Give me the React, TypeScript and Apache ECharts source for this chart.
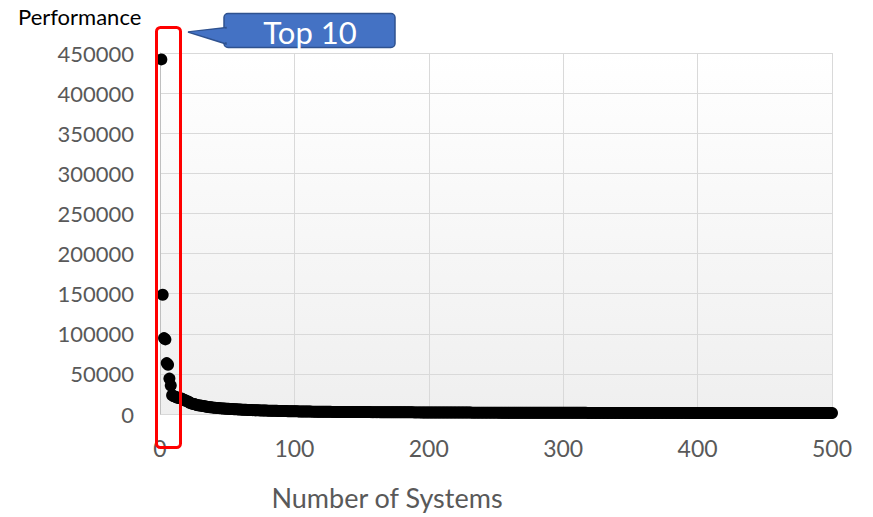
import React, { useEffect, useRef } from "react";
import * as echarts from "echarts";

const performance: number[] = [
  442010, 148600, 94640, 93015, 63460, 61445, 44120, 35450, 23516, 22400,
  21640, 21230, 20158, 19880, 19477, 19334, 18200, 17860, 16500, 16000,
  15600, 14000, 13600, 12800, 12400, 12000, 11500, 10900, 10700, 10500,
  10200, 10000, 9600, 9300, 9000, 8800, 8500, 8300, 8100, 7900,
  7800, 7600, 7500, 7300, 7200, 7000, 6900, 6800, 6600, 6500,
  6400, 6300, 6200, 6100, 6000, 5900, 5800, 5700, 5600, 5500,
  5400, 5300, 5300, 5200, 5100, 5000, 5000, 4900, 4800, 4800,
  4700, 4600, 4600, 4500, 4500, 4400, 4400, 4300, 4300, 4200,
  4200, 4100, 4100, 4000, 4000, 3900, 3900, 3800, 3800, 3700,
  3700, 3600, 3600, 3600, 3500, 3500, 3450, 3400, 3400, 3350,
  3300, 3300, 3250, 3200, 3200, 3150, 3100, 3100, 3050, 3000,
  3000, 2980, 2950, 2920, 2900, 2880, 2850, 2830, 2800, 2780,
  2760, 2740, 2720, 2700, 2690, 2680, 2660, 2640, 2620, 2600,
  2590, 2580, 2570, 2560, 2550, 2540, 2530, 2520, 2510, 2500,
  2490, 2480, 2470, 2460, 2450, 2440, 2430, 2420, 2410, 2400,
  2390, 2380, 2370, 2360, 2350, 2340, 2330, 2320, 2310, 2300,
  2290, 2280, 2270, 2260, 2250, 2240, 2230, 2220, 2210, 2200,
  2190, 2180, 2170, 2160, 2150, 2140, 2130, 2120, 2110, 2100,
  2095, 2090, 2080, 2060, 2050, 2050, 2040, 2030, 2010, 2000,
  1990, 1985, 1970, 1960, 1950, 1950, 1940, 1930, 1920, 1900,
  1895, 1890, 1880, 1870, 1865, 1860, 1850, 1845, 1840, 1830,
  1825, 1820, 1810, 1805, 1800, 1795, 1790, 1785, 1780, 1770,
  1765, 1760, 1755, 1750, 1745, 1740, 1735, 1730, 1725, 1720,
  1715, 1710, 1705, 1700, 1695, 1690, 1685, 1680, 1679, 1678,
  1679, 1672, 1671, 1660, 1659, 1650, 1649, 1649, 1649, 1649,
  1649, 1649, 1640, 1630, 1624, 1620, 1615, 1610, 1602, 1600,
  1597, 1590, 1590, 1590, 1590, 1585, 1577, 1570, 1563, 1560,
  1555, 1548, 1540, 1536, 1530, 1525, 1520, 1518, 1510, 1505,
  1500, 1498, 1490, 1487, 1480, 1476, 1470, 1470, 1470, 1470,
  1470, 1465, 1460, 1458, 1455, 1450, 1448, 1446, 1440, 1438,
  1436, 1435, 1432, 1430, 1430, 1430, 1428, 1425, 1423, 1420,
  1418, 1415, 1413, 1410, 1408, 1405, 1404, 1402, 1400, 1399,
  1398, 1397, 1396, 1395, 1394, 1393, 1392, 1391, 1390, 1390,
  1390, 1390, 1389, 1388, 1386, 1384, 1383, 1382, 1380, 1379,
  1378, 1377, 1376, 1375, 1374, 1373, 1372, 1371, 1370, 1369,
  1368, 1368, 1368, 1367, 1366, 1365, 1364, 1363, 1362, 1361,
  1360, 1360, 1359, 1358, 1357, 1356, 1356, 1355, 1354, 1353,
  1352, 1351, 1350, 1350, 1349, 1348, 1347, 1346, 1345, 1345,
  1344, 1343, 1342, 1341, 1340, 1340, 1339, 1338, 1338, 1337,
  1336, 1335, 1335, 1334, 1333, 1332, 1332, 1331, 1330, 1330,
  1329, 1329, 1328, 1328, 1327, 1327, 1326, 1326, 1325, 1325,
  1324, 1324, 1323, 1323, 1322, 1322, 1321, 1321, 1320, 1320,
  1320, 1319, 1319, 1319, 1318, 1318, 1318, 1317, 1317, 1317,
  1316, 1316, 1316, 1315, 1315, 1315, 1314, 1314, 1314, 1313,
  1313, 1313, 1312, 1312, 1312, 1311, 1311, 1311, 1310, 1310,
  1310, 1309, 1309, 1309, 1308, 1308, 1308, 1307, 1307, 1307,
  1306, 1306, 1306, 1305, 1305, 1305, 1304, 1304, 1304, 1303,
  1303, 1303, 1302, 1302, 1302, 1301, 1301, 1301, 1300, 1300,
  1300, 1299, 1299, 1299, 1298, 1298, 1298, 1297, 1297, 1297,
  1296, 1296, 1296, 1295, 1295, 1295, 1294, 1294, 1294, 1293,
];

const yAxisTitle = "Performance";
const xAxisTitle = "Number of Systems";
const calloutText = "Top 10";

const FONT = "Lato, 'Open Sans', sans-serif";

export default function App() {
  const ref = useRef<HTMLDivElement>(null);
  useEffect(() => {
    if (!ref.current) return;
    const chart = echarts.init(ref.current, undefined, { renderer: "svg" });
    const data = performance.map((v, i) => [i + 1, v]);
    chart.setOption({
      animation: false,
      backgroundColor: "#ffffff",
      textStyle: { fontFamily: FONT },
      grid: {
        left: 160,
        right: 41,
        top: 53,
        bottom: 103,
        show: true,
        borderWidth: 0,
        backgroundColor: {
          type: "linear",
          x: 0,
          y: 0,
          x2: 0,
          y2: 1,
          colorStops: [
            { offset: 0, color: "#ffffff" },
            { offset: 1, color: "#efefef" },
          ],
        },
      },
      xAxis: {
        type: "value",
        min: 0,
        max: 500,
        interval: 100,
        axisLine: { show: false },
        axisTick: { show: false },
        axisLabel: {
          color: "#595959",
          fontSize: 23,
          margin: 22,
          fontFamily: FONT,
          formatter: (v: number) => String(v),
        },
        splitLine: { show: true, lineStyle: { color: "#d9d9d9", width: 1 } },
      },
      yAxis: {
        type: "value",
        min: 0,
        max: 450000,
        interval: 50000,
        axisLine: { show: true, lineStyle: { color: "#bfbfbf", width: 1 } },
        axisTick: { show: false },
        axisLabel: {
          color: "#595959",
          fontSize: 22,
          margin: 26,
          fontFamily: FONT,
          formatter: (v: number) => String(v),
        },
        splitLine: { show: true, lineStyle: { color: "#d9d9d9", width: 1 } },
      },
      series: [
        {
          type: "scatter",
          data,
          symbol: "circle",
          symbolSize: 12,
          itemStyle: { color: "#000000", opacity: 1 },
        },
      ],
      graphic: [
        {
          type: "text",
          left: 18,
          top: 5,
          style: { text: yAxisTitle, fontSize: 22, fill: "#000000", fontFamily: FONT },
        },
        {
          type: "text",
          x: 387,
          y: 497,
          style: {
            text: xAxisTitle,
            fontSize: 27,
            fill: "#595959",
            fontFamily: FONT,
            align: "center",
            verticalAlign: "middle",
          },
        },
        {
          type: "rect",
          shape: { x: 156.5, y: 27.5, width: 24, height: 420, r: 4 },
          style: { fill: "none", stroke: "#ff0000", lineWidth: 3 },
          z: 100,
        },
        {
          type: "rect",
          shape: { x: 224, y: 13.5, width: 171, height: 34, r: 4 },
          style: { fill: "#4472c4", stroke: "#2f528f", lineWidth: 1.5 },
          z: 100,
        },
        {
          type: "polygon",
          shape: { points: [[188, 32], [226, 27.5], [226, 44]] },
          style: { fill: "#4472c4", stroke: "#2f528f", lineWidth: 1.5 },
          z: 101,
        },
        {
          type: "polygon",
          shape: { points: [[190, 32], [228, 28.6], [228, 42.8]] },
          style: { fill: "#4472c4" },
          z: 102,
        },
        {
          type: "text",
          x: 310,
          y: 32,
          style: {
            text: calloutText,
            fontSize: 31,
            fill: "#ffffff",
            fontFamily: FONT,
            align: "center",
            verticalAlign: "middle",
          },
          z: 103,
        },
      ],
    });
    return () => chart.dispose();
  }, []);
  return (
    <div
      ref={ref}
      style={{ position: "fixed", left: 0, top: 0, width: 873, height: 517 }}
    />
  );
}
